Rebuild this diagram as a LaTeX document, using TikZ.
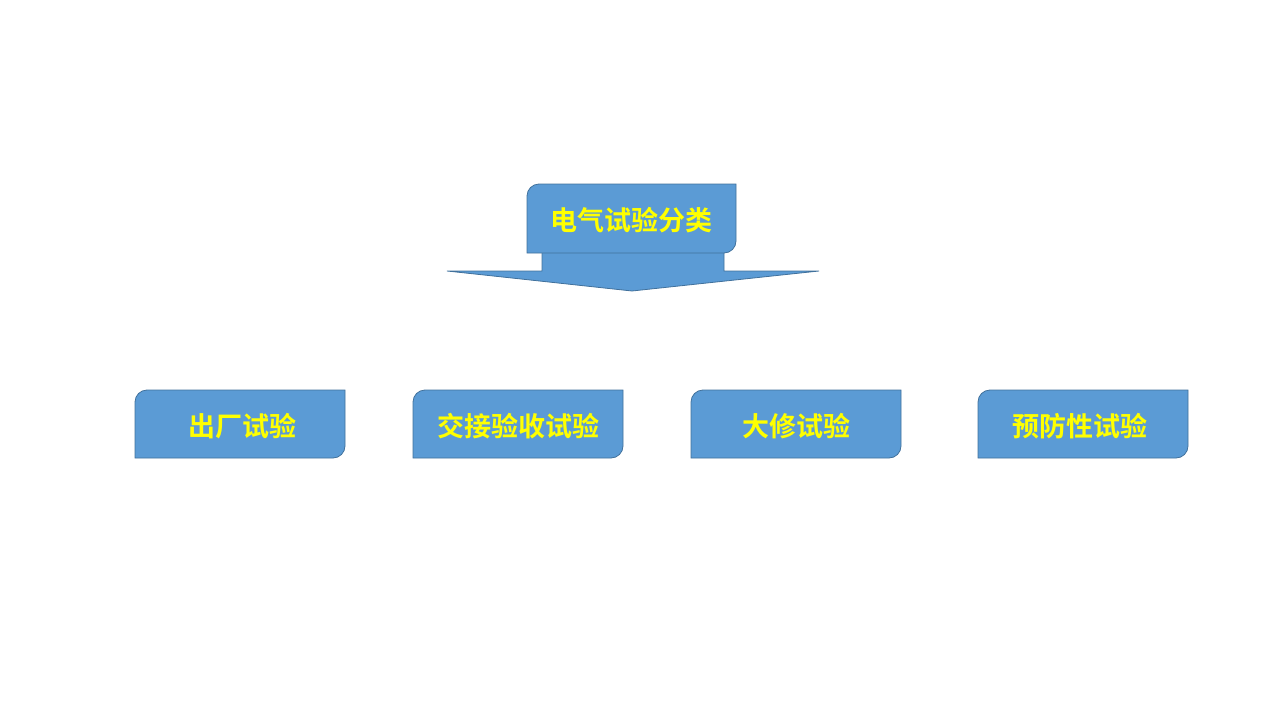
\documentclass[tikz,border=0pt]{standalone}
\usepackage{fontspec}
\newfontfamily\cjk{Noto Sans CJK SC}[BoldFont={Noto Sans CJK SC Bold}]
\definecolor{boxfill}{HTML}{5B9BD5}
\definecolor{boxline}{HTML}{41719C}
\definecolor{txt}{HTML}{FFFF00}
\begin{document}
\begin{tikzpicture}[x=1pt,y=-1pt,
  shp/.style={fill=boxfill,draw=boxline,line width=0.8pt},
  lbl/.style={text=txt,font=\cjk\bfseries\fontsize{27}{30}\selectfont,inner sep=0pt}]
\useasboundingbox (0,0) rectangle (1280,720);
% top callout
\draw[shp] (542,252) -- (542,271) -- (447,271) -- (632,291) -- (819,271) -- (724,271) -- (724,252);
\draw[shp] (527,253) [rounded corners=12] -- (527,184) [sharp corners] -- (736,184) [rounded corners=12] -- (736,253) [sharp corners] -- cycle;
\node[lbl] (top) at (631.5,220) {电气试验分类};
% bottom boxes
\foreach \x/\n/\t in {135/a/出厂试验,413/b/交接验收试验,691/c/大修试验,978/d/预防性试验}{
  \draw[shp] (\x,458) [rounded corners=12] -- (\x,390) [sharp corners] -- (\x+210,390) [rounded corners=12] -- (\x+210,458) [sharp corners] -- cycle;
}
\node[lbl] (a) at (242,426) {出厂试验};
\node[lbl] (b) at (518.5,426) {交接验收试验};
\node[lbl] (c) at (796,426) {大修试验};
\node[lbl] (d) at (1080,426) {预防性试验};
\end{tikzpicture}
\end{document}
